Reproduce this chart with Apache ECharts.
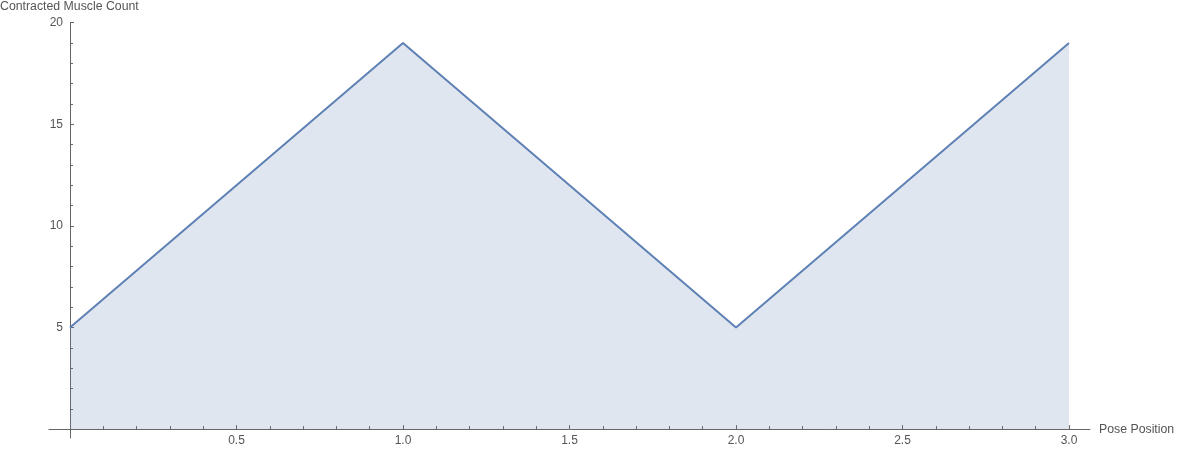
<!DOCTYPE html>
<html><head><meta charset="utf-8">
<script src="https://cdn.jsdelivr.net/npm/echarts@6/dist/echarts.min.js"></script>
<style>html,body{margin:0;padding:0;background:#fff}#c{width:1178px;height:450px}</style>
</head><body><div id="c"></div>
<script>
const posePositions = [0, 1, 2, 3];
const muscleCounts = [5, 19, 5, 19];
const xTickLabels = ['0.5','1.0','1.5','2.0','2.5','3.0'];
const yTickLabels = ['5','10','15','20'];
const xTitle = 'Pose Position';
const yTitle = 'Contracted Muscle Count';

const axisColor = '#666666';
const labelColor = '#555555';
const font = 'Liberation Sans, Arial, sans-serif';

const chart = echarts.init(document.getElementById('c'), null, {renderer:'canvas'});
chart.setOption({
  animation: false,
  grid: [
    {left: 49, right: 88, top: 22.6, bottom: 12, containLabel: false},
    {left: 70, width: 999, top: 22.6, height: 406.5, containLabel: false}
  ],
  xAxis: [
    {gridIndex: 0, type: 'value', min: -0.063, max: 3.063,
     axisLine: {show: true, onZero: true, lineStyle: {color: axisColor, width: 1}},
     axisTick: {show: false}, axisLabel: {show: false}, splitLine: {show: false}},
    {gridIndex: 1, type: 'value', min: 0, max: 3, interval: 0.5,
     axisLine: {show: false},
     axisTick: {show: true, inside: true, length: 4, lineStyle: {color: axisColor}},
     minorTick: {show: true, splitNumber: 5, length: 3, lineStyle: {color: axisColor}},
     axisLabel: {show: true, color: labelColor, fontFamily: font, fontSize: 12, margin: 6,
       formatter: v => { const i = Math.round(v / 0.5) - 1; return i >= 0 ? xTickLabels[i] : ''; }},
     splitLine: {show: false}, minorSplitLine: {show: false}}
  ],
  yAxis: [
    {gridIndex: 0, type: 'value', min: -0.42, max: 20,
     axisLine: {show: true, onZero: true, lineStyle: {color: axisColor, width: 1}},
     axisTick: {show: false}, axisLabel: {show: false}, splitLine: {show: false}},
    {gridIndex: 1, type: 'value', min: 0, max: 20, interval: 5,
     axisLine: {show: false},
     axisTick: {show: true, inside: true, length: 4, lineStyle: {color: axisColor}},
     minorTick: {show: true, splitNumber: 5, length: 3, lineStyle: {color: axisColor}},
     axisLabel: {show: true, color: labelColor, fontFamily: font, fontSize: 12, margin: 7,
       formatter: v => { const i = Math.round(v / 5) - 1; return i >= 0 ? yTickLabels[i] : ''; }},
     splitLine: {show: false}, minorSplitLine: {show: false}}
  ],
  graphic: [
    {type: 'text', left: 0, top: 1, style: {text: yTitle, fill: labelColor, font: '12.3px ' + font}},
    {type: 'text', left: 1099, top: 424, style: {text: xTitle, fill: labelColor, font: '12.3px ' + font}}
  ],
  series: [{
    type: 'line', xAxisIndex: 1, yAxisIndex: 1,
    data: posePositions.map((x, i) => [x, muscleCounts[i]]),
    showSymbol: false, symbol: 'none',
    lineStyle: {color: '#5e81b5', width: 2},
    areaStyle: {color: '#5e81b5', opacity: 0.2, origin: 'start'},
    z: 1
  }]
});
</script></body></html>
